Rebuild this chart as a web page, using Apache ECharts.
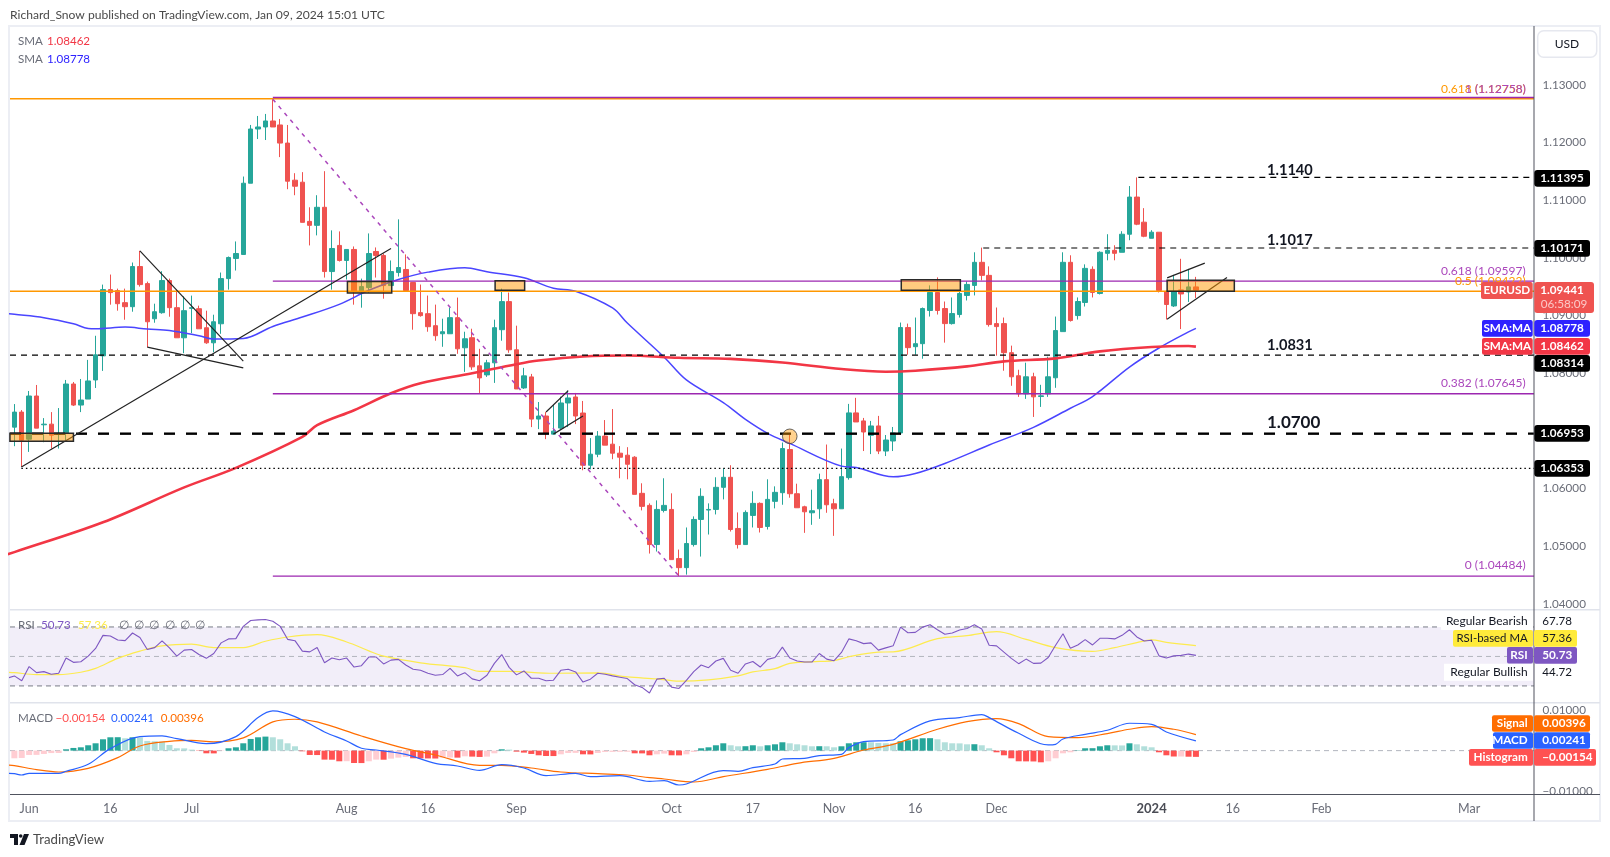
<!DOCTYPE html>
<html>
<head>
<meta charset="utf-8">
<style>
html,body{margin:0;padding:0;background:#fff}
#chart{width:1610px;height:857px}
</style>
<script src="https://cdn.jsdelivr.net/npm/echarts@6/dist/echarts.min.js"></script>
</head>
<body>
<div id="chart"></div>
<script>
// daily EURUSD, bar 0 is the first candle on the left
var opens=[1.07066,1.07327,1.06857,1.07606,1.07107,1.07118,1.06939,1.06956,1.07814,1.07449,
1.07553,1.07884,1.08302,1.0945,1.09433,1.09224,1.09154,1.0985,1.09554,1.08945,
1.0905,1.09607,1.09137,1.08615,1.09125,1.09119,1.08789,1.08528,1.08858,1.09641,
1.0999,1.10059,1.11294,1.12234,1.12269,1.12373,1.12304,1.1199,1.11347,1.11312,
1.10633,1.10564,1.10877,1.09763,1.10216,1.09955,1.10146,1.09415,1.09485,1.10111,
1.10042,1.0952,1.09746,1.09799,1.09573,1.09051,1.09033,1.08825,1.08685,1.08685,
1.08964,1.08442,1.08616,1.08129,1.07972,1.08181,1.08755,1.09242,1.08407,1.07746,
1.07937,1.07206,1.07259,1.06945,1.0705,1.07485,1.07589,1.07311,1.06406,1.06597,
1.06911,1.06771,1.06615,1.0658,1.06545,1.05919,1.0571,1.05031,1.05623,1.0564,
1.04788,1.04631,1.05031,1.05466,1.05629,1.0564,1.06023,1.06197,1.0531,1.05031,
1.05536,1.05745,1.05345,1.0578,1.0593,1.06678,1.05912,1.05686,1.05582,1.05651,
1.06156,1.05738,1.05651,1.06191,1.07313,1.07174,1.06924,1.07087,1.06652,1.06826,
1.06965,1.08792,1.08461,1.08513,1.09088,1.09401,1.09122,1.08861,1.09018,1.09349,
1.09523,1.09923,1.09697,1.08861,1.08861,1.08357,1.07957,1.07643,1.07939,1.07597,
1.07643,1.07922,1.08722,1.09923,1.09,1.09227,1.09801,1.09383,1.10079,1.10131,
1.10097,1.1041,1.11054,1.10619,1.1034,1.10445,1.09418,1.09167,1.09445,1.0941,1.09497];
var closes=[1.07327,1.0684,1.07606,1.07049,1.07118,1.06927,1.06956,1.07814,1.07449,1.07536,
1.07867,1.08319,1.0945,1.09398,1.09206,1.09154,1.0985,1.09537,1.08893,1.09067,
1.09607,1.09137,1.08615,1.09085,1.09137,1.08771,1.08528,1.08893,1.09641,1.10007,
1.10076,1.11294,1.12234,1.12269,1.12373,1.12269,1.1199,1.11329,1.11242,1.10616,
1.10564,1.10877,1.09763,1.10163,1.09955,1.10146,1.09415,1.09502,1.10076,1.10042,
1.0952,1.09763,1.09833,1.09434,1.09033,1.08999,1.08807,1.08651,1.0872,1.08964,
1.08424,1.08598,1.08111,1.0792,1.08181,1.0879,1.09242,1.08407,1.07728,1.07955,
1.07206,1.07259,1.06963,1.06997,1.07485,1.07572,1.07259,1.06406,1.06597,1.06911,
1.06754,1.06615,1.06545,1.06423,1.05901,1.05693,1.05031,1.0564,1.0571,1.0477,
1.04631,1.05049,1.05466,1.05867,1.0564,1.06023,1.06197,1.05292,1.05031,1.05588,
1.05745,1.05327,1.05814,1.05936,1.06695,1.05912,1.05669,1.05599,1.05617,1.06156,
1.05721,1.05651,1.06208,1.07313,1.07156,1.06982,1.07087,1.06652,1.06843,1.06965,
1.08792,1.08444,1.08513,1.09122,1.09401,1.09088,1.08861,1.09035,1.09383,1.0954,
1.09923,1.09697,1.08844,1.08809,1.08357,1.07939,1.07643,1.07939,1.07591,1.07609,
1.07939,1.0874,1.09923,1.08914,1.09244,1.09818,1.09401,1.10097,1.10131,1.10079,
1.1041,1.11054,1.10584,1.10375,1.10445,1.09436,1.09192,1.0941,1.09375,1.09497,1.09441];
var highs=[1.07466,1.07362,1.07693,1.07797,1.07223,1.07327,1.07397,1.07884,1.07849,1.07901,
1.08232,1.0865,1.09537,1.09711,1.09467,1.09467,1.0992,1.10123,1.09589,1.09206,
1.09769,1.09641,1.0945,1.09334,1.09346,1.09172,1.09085,1.09015,1.09746,1.10024,
1.10285,1.1141,1.12304,1.1246,1.12495,1.1275,1.12408,1.12304,1.11468,1.11486,
1.10877,1.11086,1.11503,1.10477,1.10459,1.10146,1.10198,1.09641,1.10424,1.10181,
1.10076,1.09955,1.10668,1.1006,1.09573,1.09538,1.09347,1.0919,1.08946,1.09138,
1.09312,1.0872,1.08772,1.08424,1.08233,1.08929,1.09468,1.09399,1.08825,1.08094,
1.07989,1.07502,1.07328,1.0745,1.07595,1.07699,1.07659,1.0752,1.06876,1.06998,
1.07189,1.0738,1.06737,1.06719,1.06563,1.06093,1.05745,1.05797,1.0618,1.05919,
1.04944,1.05327,1.05519,1.06006,1.05745,1.06197,1.06354,1.06406,1.05588,1.05623,
1.05954,1.05762,1.06162,1.0604,1.068,1.06938,1.06086,1.05704,1.05982,1.0626,
1.06765,1.05825,1.06695,1.07469,1.07574,1.07226,1.07174,1.07261,1.0693,1.07069,
1.08879,1.08861,1.08966,1.0914,1.09523,1.09662,1.09244,1.09314,1.09418,1.09592,
1.10097,1.10178,1.09853,1.0914,1.08966,1.08479,1.08061,1.08183,1.08009,1.078,
1.08287,1.08983,1.10097,1.10045,1.09314,1.09888,1.09853,1.10114,1.1041,1.10219,
1.10462,1.11245,1.11395,1.10862,1.1048,1.10445,1.09436,1.09706,1.09984,1.0981,1.09671];
var lows=[1.06736,1.06376,1.06637,1.07049,1.06805,1.06695,1.06695,1.0684,1.07432,1.07327,
1.07553,1.07745,1.08041,1.09189,1.09085,1.08928,1.09067,1.09502,1.08452,1.08876,
1.09032,1.0898,1.08615,1.08348,1.08696,1.08771,1.0851,1.08365,1.08684,1.0945,
1.09781,1.10059,1.11294,1.1206,1.12043,1.12269,1.11747,1.1119,1.11086,1.10616,
1.10216,1.1039,1.09659,1.0945,1.09937,1.09624,1.09189,1.09137,1.09392,1.09659,
1.09293,1.0952,1.09676,1.09434,1.08755,1.08981,1.0872,1.08564,1.08459,1.08685,
1.08337,1.08024,1.08059,1.07659,1.07937,1.07833,1.08564,1.08355,1.07728,1.07728,
1.07067,1.07032,1.06858,1.06945,1.07032,1.07067,1.07119,1.06319,1.06336,1.06545,
1.06754,1.0651,1.0618,1.06162,1.05901,1.05623,1.04875,1.0491,1.05588,1.0477,
1.04484,1.0451,1.04997,1.04823,1.05205,1.05553,1.05814,1.05257,1.04962,1.05031,
1.05327,1.0524,1.05292,1.05658,1.05721,1.05843,1.05669,1.05234,1.05373,1.05477,
1.05582,1.05182,1.05651,1.06156,1.07156,1.06652,1.06599,1.06599,1.06565,1.06652,
1.0693,1.08322,1.08322,1.08252,1.08983,1.09018,1.08531,1.08844,1.08966,1.09262,
1.09349,1.0961,1.08809,1.08305,1.08044,1.07783,1.07591,1.07556,1.07243,1.07417,
1.07591,1.07748,1.08722,1.08896,1.08931,1.09157,1.09314,1.09366,1.09958,1.09958,
1.10097,1.10306,1.10567,1.10358,1.1034,1.09401,1.08931,1.09149,1.08766,1.09236,1.09306];

var sma50Bars=[-1,0,4,8,10,11,15,18,21,25,27,31,35,39,44,48,52,56,61,64,69,73,76,81,83,88,91,96,99,102,105,112,114,119,122,126,132,138,143,146,151,155,159,160];
var sma50Vals=[1.09034,1.09021,1.08963,1.08858,1.08777,1.08771,1.088,1.08766,1.08742,1.0865,1.08592,1.08603,1.08812,1.08974,1.09195,1.09438,1.09625,1.09753,1.09828,1.09758,1.09654,1.09474,1.09422,1.09132,1.08871,1.08279,1.07885,1.07491,1.07201,1.06959,1.06785,1.06391,1.06367,1.06205,1.06263,1.06437,1.06756,1.07063,1.07394,1.07597,1.08107,1.08438,1.08717,1.08778];
var sma200Bars=[-1,0,12,23,30,39,41,46,51,55,62,68,71,77,83,90,97,104,112,118,122,129,134,141,147,154,159,160];
var sma200Vals=[1.0486,1.049,1.05417,1.06022,1.06361,1.06898,1.071,1.0736,1.07653,1.07827,1.08001,1.08158,1.08221,1.08291,1.08309,1.08268,1.0825,1.08187,1.08073,1.08027,1.08044,1.08119,1.08206,1.08258,1.0838,1.08455,1.08473,1.08462];

var rsiVals=[36.8,33.5,43.1,39.0,39.7,37.9,38.6,48.9,46.0,46.4,
50.2,55.4,64.3,63.9,61.2,60.7,65.9,62.8,54.7,56.0,
60.5,55.8,50.2,54.3,54.7,51.3,48.7,52.0,59.2,61.9,
62.1,70.4,74.4,74.8,75.1,73.9,70.4,61.6,60.7,53.6,
53.1,56.0,45.7,48.9,47.8,48.9,42.8,43.7,49.6,49.6,
44.9,47.5,48.0,44.2,41.3,40.6,38.6,37.2,37.7,41.9,
36.8,39.0,34.8,33.5,37.2,45.3,51.3,42.6,37.5,40.2,
35.2,35.2,33.5,33.9,40.6,41.3,39.5,32.6,34.6,38.6,
37.9,36.8,35.9,35.0,30.8,29.0,25.2,34.6,35.2,29.2,
28.3,33.7,39.7,44.2,42.4,46.9,48.7,40.6,38.6,44.9,
46.6,42.8,48.0,49.3,56.3,48.9,46.9,46.2,46.2,52.0,
48.2,47.1,52.7,61.9,60.7,58.7,59.2,54.3,55.8,57.2,
69.9,66.1,66.3,69.9,71.5,68.1,65.0,65.9,67.9,69.0,
71.5,68.6,57.6,57.2,52.9,48.7,45.1,48.2,45.3,45.5,
49.3,57.6,65.4,55.6,57.8,61.4,57.8,62.3,62.3,61.9,
64.3,68.1,63.2,60.5,61.0,50.4,48.9,50.4,50.7,51.6,50.73];
var rsiBeforeFirstBar=35.2;
var rsiMaBars=[-1,0,3,6,9,11,14,17,20,24,27,31,34,37,41,45,48,50,55,61,63,67,73,79,83,87,90,94,98,100,103,105,109,111,113,117,119,125,129,133,137,141,146,149,152,154,156,160];
var rsiMaVals=[39.3,39.0,37.7,37.7,39.3,41.9,48.7,53.6,57.2,58.3,56.0,56.0,60.3,63.2,64.8,59.8,53.8,50.2,45.7,42.4,39.9,39.9,38.6,38.8,36.1,34.8,33.2,34.1,36.8,39.5,41.7,45.3,46.6,47.1,49.8,52.9,53.1,62.1,64.1,66.8,61.6,56.0,53.4,56.0,59.4,61.2,59.6,57.36];

var macdBars=[-1,0,1,2,6,7,10,13,17,20,22,26,30,33,35,38,42,45,47,49,53,57,60,63,66,69,72,76,78,82,86,88,90,91,96,98,100,103,104,107,109,112,113,115,119,120,124,128,131,132,136,140,141,142,145,148,151,154,156,160];
var macdVals=[-.0056,-.00568,-.00601,-.0056,-.0056,-.0051,-.00337,.00049,.00346,.00362,.00296,.00173,.00346,.00815,.00979,.0084,.00461,.00239,.00058,.00016,-.00091,-.00313,-.00379,-.00486,-.00346,-.00428,-.00617,-.0056,-.00642,-.00617,-.00757,-.00741,-.00848,-.00823,-.00494,-.0051,-.0042,-.00329,-.00206,-.00189,-.00123,-.00091,.00074,.00222,.00263,.00395,.00733,.00815,.00889,.00815,.00428,.0014,.00156,.00288,.00403,.00502,.00675,.0065,.00461,.00241];
var signalBars=[-1,0,3,6,10,14,17,21,24,27,31,35,38,41,47,53,57,63,66,70,74,79,83,86,88,92,96,102,106,111,115,119,125,129,133,136,140,144,148,151,154,157,160];
var signalVals=[-.00354,-.0037,-.00469,-.00527,-.00436,-.00173,.00115,.0023,.00255,.00214,.00313,.00708,.00774,.00708,.00362,.00049,-.00107,-.00362,-.00362,-.00428,-.00527,-.00568,-.00601,-.00667,-.007,-.00774,-.00642,-.00461,-.00313,-.00189,.00016,.00156,.00527,.00716,.0079,.00667,.00346,.00321,.0042,.00527,.00593,.00527,.00396];
var histVals=[-.00189,-.00181,-.00107,-.00105,-.00082,-.0006,-.00058,.00033,.00066,.00082,
.00132,.00181,.0028,.00329,.00331,.00305,.00329,.00325,.00239,.00232,
.00222,.0014,.00058,.00056,.00025,-.00008,-.00066,-.00068,-.00008,.00058,
.00082,.00181,.00288,.00329,.00346,.00329,.0028,.00181,.00107,-.00016,
-.00107,-.00109,-.00222,-.00224,-.00263,-.00261,-.00305,-.00307,-.00263,-.00222,
-.00224,-.00198,-.00173,-.00156,-.00189,-.00191,-.00193,-.00195,-.00173,-.00171,
-.00173,-.0014,-.00148,-.00156,-.00148,-.00066,.00033,.00025,-.00025,-.00049,
-.00082,-.00115,-.00132,-.00134,-.00091,-.00058,-.00056,-.00091,-.00093,-.00058,
-.00033,-.00031,-.00029,-.00028,-.00066,-.00068,-.00115,-.00091,-.00074,-.00115,
-.00117,-.00091,-.00033,.00058,.00082,.00132,.00181,.00132,.00107,.00109,
.00132,.00107,.00132,.00156,.00206,.00181,.00156,.00132,.00107,.00109,
.00107,.00082,.00107,.00181,.00206,.00208,.00206,.0019,.00182,.00181,
.0023,.00255,.0028,.00305,.00307,.0028,.00206,.00181,.00179,.00156,
.00158,.00132,.00058,-.00041,-.00115,-.00189,-.00263,-.00265,-.00267,-.00288,
-.00263,-.00189,-.00066,-.00041,.00008,.00058,.0006,.00107,.00132,.0013,
.00128,.00181,.00156,.00107,.00082,-.00041,-.00115,-.00145,-.00145,-.0015,-.00154];

var priceTicks=[1.04,1.05,1.06,1.07,1.08,1.09,1.10,1.11,1.12,1.13];
var macdTicks=[0.01,-0.01];
var timeTickBars=[2,13,24,45,56,68,89,100,111,122,133,154,165,177,197];
var timeTickNames=['Jun','16','Jul','Aug','16','Sep','Oct','17','Nov','16','Dec','2024','16','Feb','Mar'];

var FONT='Lato';
var UP='#26a69a',DOWN='#ef5350';
var xMin=-0.59,xMax=205.78;

function pairs(xs,ys){return xs.map(function(x,i){return [x,ys[i]]})}

// straight line in data space, on pane p (0 price, 1 rsi, 2 macd)
function seg(p,pts,color,width,type,z,smooth){
  return {type:'line',xAxisIndex:p,yAxisIndex:p,data:pts,symbol:'none',silent:true,animation:false,
    clip:true,z:z||5,smooth:smooth||false,lineStyle:{color:color,width:width,type:type||'solid'}};
}
// rectangles given as [x0,y0,x1,y1]
function boxes(p,rows,fill,stroke,z){
  return {type:'custom',xAxisIndex:p,yAxisIndex:p,data:rows,silent:true,animation:false,z:z,
    encode:{x:[0,2],y:[1,3]},
    renderItem:function(params,api){
      var a=api.coord([api.value(0),api.value(1)]),b=api.coord([api.value(2),api.value(3)]);
      return {type:'rect',shape:{x:a[0],y:a[1],width:b[0]-a[0],height:b[1]-a[1]},
        style:{fill:fill,stroke:stroke||null,lineWidth:stroke?1.5:0}};
    }};
}

var series=[];
// rsi band goes under everything
series.push(boxes(1,[[xMin,70,xMax,30]],'rgba(126,87,194,0.1)',null,1));
series.push(seg(1,[[xMin,70],[xMax,70]],'#787b86',1,[5,4],2));
series.push(seg(1,[[xMin,50],[xMax,50]],'#b2b5be',1,[5,4],2));
series.push(seg(1,[[xMin,30],[xMax,30]],'#787b86',1,[5,4],2));
series.push(seg(2,[[xMin,0],[xMax,0]],'#b2b5be',1,[5,4],1));

series.push({type:'candlestick',xAxisIndex:0,yAxisIndex:0,barWidth:5,silent:true,animation:false,z:3,
  data:opens.map(function(o,i){return [i,o,closes[i],lows[i],highs[i]]}),
  itemStyle:{color:UP,color0:DOWN,borderColor:UP,borderColor0:DOWN,borderWidth:1}});

series.push(seg(0,pairs(sma50Bars,sma50Vals),'#4a45ff',1.5,'solid',4,0.35));
series.push(seg(0,pairs(sma200Bars,sma200Vals),'#f23645',2.6,'solid',4,0.35));

// fib levels
series.push(seg(0,[[xMin,1.12758],[xMax,1.12758]],'#ff9800',1.5));
series.push(seg(0,[[xMin,1.09422],[xMax,1.09422]],'#ff9800',1.5));
series.push(seg(0,[[35,1.1278],[xMax,1.1278]],'#9c27b0',1.5));
series.push(seg(0,[[35,1.09597],[xMax,1.09597]],'#9c27b0',1.3));
series.push(seg(0,[[35,1.07645],[xMax,1.07645]],'#9c27b0',1.3));
series.push(seg(0,[[35,1.04484],[xMax,1.04484]],'#9c27b0',1.3));
series.push(seg(0,[[35,1.1275],[90,1.04484]],'#ab47bc',1.5,[4,5]));

// support and resistance
series.push(seg(0,[[152.2,1.11395],[xMax,1.11395]],'#000',1.2,[6,5]));
series.push(seg(0,[[131.2,1.10171],[xMax,1.10171]],'#000',1.2,[6,5]));
series.push(seg(0,[[xMin,1.08314],[xMax,1.08314]],'#000',1.2,[6,5]));
series.push(seg(0,[[xMin,1.06953],[xMax,1.06953]],'#000',2.4,[11,11]));
series.push(seg(0,[[0.95,1.06353],[xMax,1.06353]],'#000',1.2,[1.5,3]));

// hand drawn trend lines and flags
series.push(seg(0,[[0.95,1.06376],[51,1.10163]],'#222',1.2));
series.push(seg(0,[[17,1.10123],[31,1.08209]],'#222',1.2));
series.push(seg(0,[[18,1.08452],[31,1.08093]],'#222',1.2));
series.push(seg(0,[[72,1.07328],[75,1.07699]],'#222',1.2));
series.push(seg(0,[[73,1.06945],[77,1.07259]],'#222',1.2));
series.push(seg(0,[[156.1,1.09654],[161.2,1.09909]],'#222',1.2));
series.push(seg(0,[[156.1,1.08935],[164.2,1.0966]],'#222',1.2));

series.push(boxes(0,[[-0.6,1.06962,8,1.06823],[45.1,1.09589,51.1,1.09392],[65.1,1.09602,69.1,1.09439],
  [120.1,1.09621,128.1,1.09441],[156.1,1.09613,165.2,1.09422]],'rgba(255,152,0,0.5)','#2a2a2a',6));
series.push({type:'scatter',xAxisIndex:0,yAxisIndex:0,data:[[105,1.06907]],symbolSize:14.6,silent:true,animation:false,z:6,
  itemStyle:{color:'rgba(255,152,0,0.55)',borderColor:'#444',borderWidth:1}});

// rsi pane
series.push(seg(1,pairs(rsiMaBars,rsiMaVals),'#fdeb4f',1.2,'solid',3,0.35));
series.push(seg(1,[[-1,rsiBeforeFirstBar]].concat(rsiVals.map(function(v,i){return [i,v]})),'#7e57c2',1.1,'solid',4));

// macd pane
series.push({type:'bar',xAxisIndex:2,yAxisIndex:2,barWidth:6,silent:true,animation:false,z:2,
  data:histVals.map(function(v,i){return [i,v]}),
  itemStyle:{color:function(p){
    var v=histVals[p.dataIndex],prev=p.dataIndex?histVals[p.dataIndex-1]:v;
    if(v>=0)return v>prev?'#26a69a':'#b2dfdb';
    return v<prev?'#ff5252':'#ffcdd2';
  }}});
series.push(seg(2,pairs(signalBars,signalVals),'#ff6d00',1.2,'solid',4,0.35));
series.push(seg(2,pairs(macdBars,macdVals),'#2962ff',1.2,'solid',5,0.35));

// page furniture, all pixel placed labels
var G=[];
function box(x,y,w,h,fill,r,z,stroke){
  G.push({type:'rect',silent:true,z:z||20,shape:{x:x,y:y,width:w,height:h,r:r||0},style:{fill:fill,stroke:stroke||null,lineWidth:stroke?1.5:0}});
}
function txt(x,y,s,color,size,align,weight,z){
  G.push({type:'text',silent:true,z:z||21,x:x,y:y,style:{text:s,fill:color,font:(weight||'normal')+' '+size+'px '+FONT,textAlign:align||'left',textVerticalAlign:'middle'}});
}
// frame and pane separators
box(8,26,2,795,'#eceef4',0,1);
box(8,25,1592,2,'#eceef4',0,1);
box(1599,25,2,797,'#eceef4',0,1);
box(8,820,1593,2,'#eceef4',0,1);
box(10,609,1590,1.5,'#e0e3eb',0,15);
box(10,702,1590,1.5,'#e0e3eb',0,15);
box(1533.5,26,1,795,'#50535e',0,15);
box(10,794,1590,1,'#50535e',0,15);

var LEG=11.6,TAG=11.7;
txt(10,15,'Richard_Snow published on TradingView.com, Jan 09, 2024 15:01 UTC','#4a4a4a',12.1);
txt(18,41,'SMA','#6a6d78',LEG);txt(47,41,'1.08462','#f23645',LEG);
txt(18,59,'SMA','#6a6d78',LEG);txt(47,59,'1.08778','#2e22ff',LEG);
txt(18,625,'RSI','#6a6d78',LEG);txt(41,625,'50.73','#7e57c2',LEG);txt(78,625,'57.36','#fdeb4f',LEG);
[119,134,149,165,180,195].forEach(function(x){txt(x,625,'∅','#6a6d78',LEG)});
txt(18,718,'MACD','#6a6d78',LEG);txt(55.5,718,'−0.00154','#ff5252',LEG);txt(111,718,'0.00241','#2962ff',LEG);txt(160.7,718,'0.00396','#ff6d00',LEG);

// fib captions
txt(1525.7,89.3,'0.618 (1.12758)','#ff9800',12,'right');
txt(1526,89.3,'1 (1.12758)','#ab47bc',12,'right');
txt(1525.7,270.7,'0.618 (1.09597)','#ab47bc',12,'right');
txt(1525.7,280.7,'0.5 (1.09422)','#ff9800',12,'right');
txt(1525.7,383.3,'0.382 (1.07645)','#ab47bc',12,'right');
txt(1525.7,565,'0 (1.04484)','#ab47bc',12,'right');
// level captions
txt(1267,170,'1.1140','#131722',14.6,'left','bold');
txt(1267,240,'1.1017','#131722',14.6,'left','bold');
txt(1267,345,'1.0831','#131722',14.6,'left','bold');
txt(1267,423,'1.0700','#131722',17,'left','bold');

// price scale tags
function tag(y,label,color){box(1534.3,y,55.7,16.7,color,3,30);txt(1562,y+8.6,label,'#fff',TAG,'center','bold',31)}
tag(170,'1.11395','#000');tag(240,'1.10171','#000');
tag(355,'1.08314','#000');tag(425,'1.06953','#000');tag(460,'1.06353','#000');
box(1481,282,51.7,17,DOWN,2,30);txt(1506.8,290.6,'EURUSD','#fff',TAG,'center','bold',31);
box(1534.3,282,59.7,31,DOWN,3,30);txt(1562,290.7,'1.09441','#fff',TAG,'center','bold',31);txt(1564,304,'06:58:09','#fbc8c6',TAG,'center','normal',31);
box(1482,320,50.7,16.7,'#2e22ff',2,30);txt(1507.3,328.6,'SMA:MA','#fff',TAG,'center','bold',31);
tag(320,'1.08778','#2e22ff');
box(1482,338,50.7,16.7,'#f23645',2,30);txt(1507.3,346.6,'SMA:MA','#fff',TAG,'center','bold',31);
tag(338,'1.08462','#f23645');
box(1537.7,30.7,59,26.6,'#fff',6,30,'#e6e8ef');txt(1567,44,'USD','#131722',12,'center','normal',31);

// rsi scale tags
box(1441,613,92,17,'#fff',0,30);txt(1527.7,620.7,'Regular Bearish','#131722',12,'right','normal',31);
txt(1542.3,621.3,'67.78','#131722',LEG,'left','normal',31);
box(1453,630,80,16.7,'#ffeb3b',2,30);txt(1527.7,638.3,'RSI-based MA','#131722',11.4,'right','normal',31);
box(1534,630,43,16.7,'#ffeb3b',2,30);txt(1542.3,638.3,'57.36','#131722',LEG,'left','normal',31);
box(1507,647,26,16.7,'#7e57c2',2,30);txt(1527.7,655.5,'RSI','#fff',TAG,'right','bold',31);
box(1534,647,43,16.7,'#7e57c2',2,30);txt(1542.3,655.5,'50.73','#fff',TAG,'left','bold',31);
box(1444,663.7,89,17,'#fff',0,30);txt(1527.7,672,'Regular Bullish','#131722',12,'right','normal',31);
txt(1542.3,672,'44.72','#131722',LEG,'left','normal',31);

// macd scale tags
box(1492,715.3,41,16.4,'#ff6d00',2,30);txt(1527.7,723.3,'Signal','#fff',TAG,'right','bold',31);
box(1534,715.3,56,16.4,'#ff6d00',2,30);txt(1542.3,723.3,'0.00396','#fff',TAG,'left','bold',31);
box(1493,732.3,40,16.4,'#2962ff',2,30);txt(1527.7,740.5,'MACD','#fff',TAG,'right','bold',31);
box(1534,732.3,56,16.4,'#2962ff',2,30);txt(1542.3,740.5,'0.00241','#fff',TAG,'left','bold',31);
box(1469,749,64,16.7,'#ff5252',2,30);txt(1527.7,757,'Histogram','#fff',TAG,'right','bold',31);
box(1534,749,62,16.7,'#ff5252',2,30);txt(1542.3,757,'−0.00154','#fff',TAG,'left','bold',31);

// footer logo
G.push({type:'polygon',silent:true,z:20,shape:{points:[[10,834],[18,834],[18,845],[14,845],[14,838],[10,838]]},style:{fill:'#131722'}});
G.push({type:'circle',silent:true,z:20,shape:{cx:20.7,cy:836,r:1.8},style:{fill:'#131722'}});
G.push({type:'polygon',silent:true,z:20,shape:{points:[[24,834],[29,834],[24.5,845],[19.5,845]]},style:{fill:'#131722'}});
txt(33,840,'TradingView','#4a4a4a',13.2);

var chart=echarts.init(document.getElementById('chart'),null,{renderer:'canvas'});
var hiddenX=function(g){return {type:'value',gridIndex:g,min:xMin,max:xMax,show:false}};
chart.setOption({
  animation:false,
  backgroundColor:'#fff',
  grid:[
    {left:10,width:1524,top:27,height:582},
    {left:10,width:1524,top:610,height:92},
    {left:10,width:1524,top:703,height:91}
  ],
  xAxis:[hiddenX(0),hiddenX(1),{
    type:'value',gridIndex:2,min:xMin,max:xMax,
    axisLine:{show:false},axisTick:{show:false},splitLine:{show:false},
    axisLabel:{customValues:timeTickBars,margin:8,fontFamily:FONT,fontSize:12.5,color:'#6a6d78',
      formatter:function(v){
        var name=timeTickNames[timeTickBars.indexOf(v)];
        return name==='2024'?'{b|2024}':name;
      },
      rich:{b:{fontFamily:FONT,fontSize:13,fontWeight:'bold',color:'#4a4c55'}}}
  }],
  yAxis:[
    {type:'value',gridIndex:0,position:'right',min:1.03914,max:1.14002,
      axisLine:{show:false},axisTick:{show:false},splitLine:{show:false},
      axisLabel:{customValues:priceTicks,margin:8.5,fontFamily:FONT,fontSize:11.7,color:'#6a6d78',
        formatter:function(v){return v.toFixed(5)}}},
    {type:'value',gridIndex:1,position:'right',min:19.1,max:81.5,show:false},
    {type:'value',gridIndex:2,position:'right',min:-0.0107,max:0.01175,
      axisLine:{show:false},axisTick:{show:false},splitLine:{show:false},
      axisLabel:{customValues:macdTicks,margin:8.5,fontFamily:FONT,fontSize:11.7,color:'#6a6d78',
        formatter:function(v){return (v<0?'−':'')+Math.abs(v).toFixed(5)}}}
  ],
  series:series,
  graphic:G
});
</script>
</body>
</html>
